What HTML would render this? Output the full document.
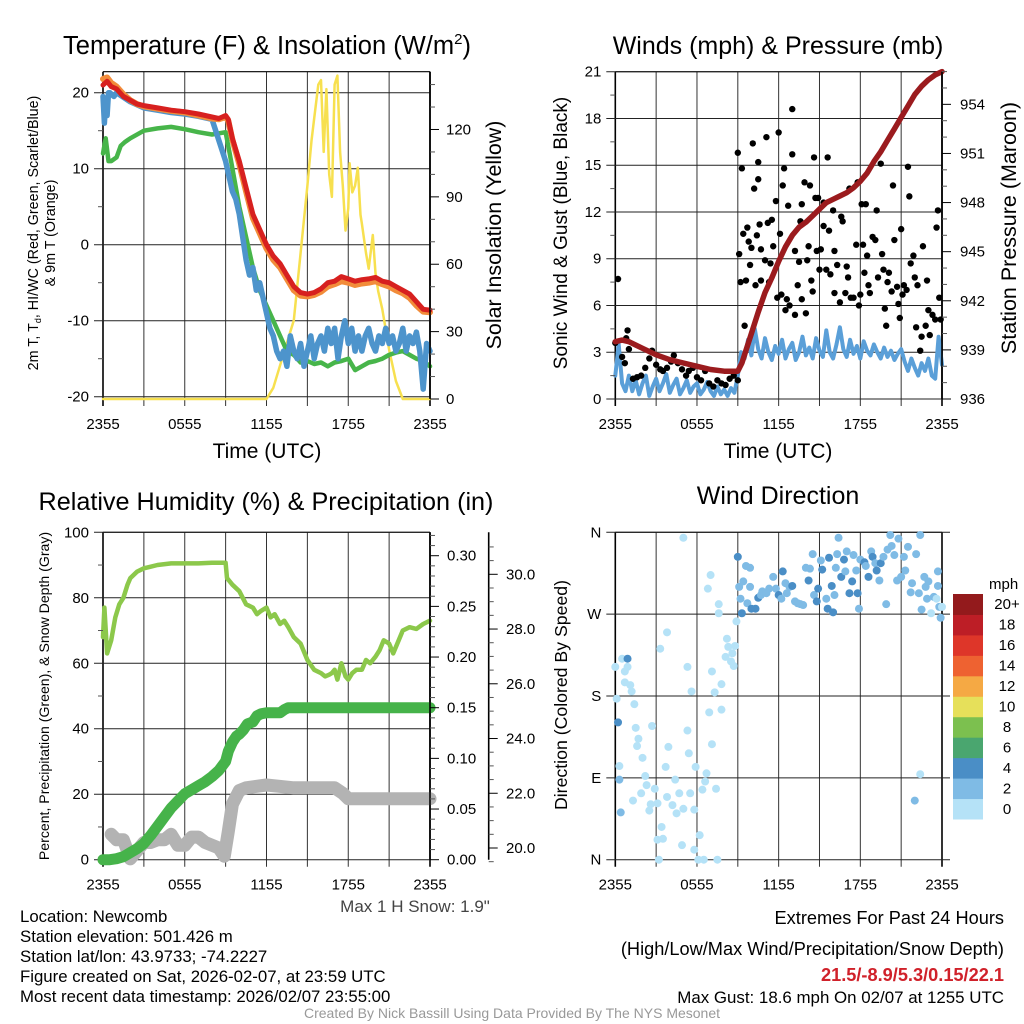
<!DOCTYPE html>
<html><head><meta charset="utf-8">
<style>
html,body{margin:0;padding:0;background:#fff;}
svg{display:block;font-family:"Liberation Sans",Arial,sans-serif;}
</style></head>
<body>
<svg id="c" width="1024" height="1024" viewBox="0 0 1024 1024" xmlns="http://www.w3.org/2000/svg">
<rect x="0" y="0" width="1024" height="1024" fill="#fff"/>
<g id="grids"></g>
<g id="marks"></g>
<g id="axes"></g>
<!-- titles -->
<text x="267" y="54" font-size="25.5" text-anchor="middle">Temperature (F) &amp; Insolation (W/m<tspan dy="-10" font-size="15">2</tspan><tspan dy="10">)</tspan></text>
<text x="778" y="54" font-size="25" text-anchor="middle">Winds (mph) &amp; Pressure (mb)</text>
<text x="266" y="510" font-size="25.2" text-anchor="middle">Relative Humidity (%) &amp; Precipitation (in)</text>
<text x="778" y="504" font-size="25" text-anchor="middle">Wind Direction</text>
<!-- x titles -->
<text x="267" y="458" font-size="21" text-anchor="middle">Time (UTC)</text>
<text x="778" y="458" font-size="21" text-anchor="middle">Time (UTC)</text>
<!-- y titles -->
<text transform="translate(38,233) rotate(-90)" font-size="14.3" text-anchor="middle">2m T, T<tspan font-size="9" dy="3">d</tspan><tspan dy="-3">, HI/WC (Red, Green, Scarlet/Blue)</tspan></text>
<text transform="translate(55,233) rotate(-90)" font-size="14.3" text-anchor="middle">&amp; 9m T (Orange)</text>
<text transform="translate(501,235) rotate(-90)" font-size="21.4" text-anchor="middle">Solar Insolation (Yellow)</text>
<text transform="translate(567,233) rotate(-90)" font-size="19" text-anchor="middle">Sonic Wind &amp; Gust (Blue, Black)</text>
<text transform="translate(1016,228) rotate(-90)" font-size="21.5" text-anchor="middle">Station Pressure (Maroon)</text>
<text transform="translate(49,696) rotate(-90)" font-size="14.1" text-anchor="middle">Percent, Precipitation (Green), &amp; Snow Depth (Gray)</text>
<text transform="translate(567,695) rotate(-90)" font-size="17.7" text-anchor="middle">Direction (Colored By Speed)</text>
<!-- footer -->
<text x="415" y="912" font-size="17" fill="#444" text-anchor="middle">Max 1 H Snow: 1.9"</text>
<g font-size="16.8">
<text x="20" y="922">Location: Newcomb</text>
<text x="20" y="942">Station elevation: 501.426 m</text>
<text x="20" y="962">Station lat/lon: 43.9733; -74.2227</text>
<text x="20" y="982">Figure created on Sat, 2026-02-07, at 23:59 UTC</text>
<text x="20" y="1002">Most recent data timestamp: 2026/02/07 23:55:00</text>
</g>
<g text-anchor="end">
<text x="1004" y="924" font-size="18.2">Extremes For Past 24 Hours</text>
<text x="1004" y="955" font-size="18.2">(High/Low/Max Wind/Precipitation/Snow Depth)</text>
<text x="1004" y="981" font-size="18.2" fill="#d0212a" font-weight="bold">21.5/-8.9/5.3/0.15/22.1</text>
<text x="1004" y="1003" font-size="16.9">Max Gust: 18.6 mph On 02/07 at 1255 UTC</text>
</g>
<text x="512" y="1018" font-size="14" fill="#999" text-anchor="middle">Created By Nick Bassill Using Data Provided By The NYS Mesonet</text>
</svg>
<script>
// ---------- DATA ----------
const timeTickLabels = ["2355","0555","1155","1755","2355"];
const tempTicks = [-20,-10,0,10,20];
const solarTicks = [0,30,60,90,120];
const windTicks = [0,3,6,9,12,15,18,21];
const presTicks = [936,939,942,945,948,951,954];
const rhTicks = [0,20,40,60,80,100];
const precipTicks = [0,0.05,0.10,0.15,0.20,0.25,0.30];
const precipTickLabels = ["0.00","0.05","0.10","0.15","0.20","0.25","0.30"];
const snowTicks = [20,22,24,26,28,30];
const dirTicks = [0,90,180,270,360];
const dirTickLabels = ["N","E","S","W","N"];

const tempTimes = [0,0.3,0.6,1,1.5,2,2.5,3,4,5,6,7,8,8.5,9,9.2,9.5,10,10.5,11,11.5,12,12.5,13,13.5,14,14.5,15,15.5,16,16.5,17,17.5,18,18.5,19,19.5,20,20.5,21,21.5,22,22.5,23,23.5,24];
const tempRed = [21,21.5,20.8,20.5,19.5,19,18.5,18.3,18,17.7,17.5,17.2,16.8,16.6,17,16.5,14,11,7.5,4,2,0,-1.5,-2.5,-4,-5.5,-6.3,-6.5,-6.3,-5.8,-5,-4.8,-4.2,-4.5,-4.8,-4.6,-4.5,-4.3,-4.8,-5,-5.5,-6,-6.5,-7.5,-8.5,-8.6];
const tempOrange = [21.8,22,21.3,20.8,19.8,19,18.5,18.2,17.9,17.6,17.4,17,16.6,16.5,16.8,16.3,13.8,10.6,7,3.5,1.5,-0.5,-2,-3,-4.5,-6,-6.7,-6.8,-6.6,-6.2,-5.5,-5.2,-4.8,-5,-5.3,-5.1,-5,-4.8,-5.2,-5.5,-6,-6.4,-7,-8,-8.8,-8.9];
const dewTimes = [0,0.2,0.4,0.6,1,1.3,1.6,2,3,4,5,6,7,8,9,9.3,9.6,10,10.5,11,11.5,12,12.5,13,13.5,14,14.5,15,15.5,16,16.5,17,17.5,18,18.5,19,19.5,20,20.5,21,21.5,22,22.5,23,23.5,24];
const dewVals = [12,14,11,11,11.5,13,13.5,14,15,15.3,15.5,15.2,14.8,14.5,14.8,12,9,5,1,-3,-6,-8,-10,-12,-14,-14.5,-15.5,-15.3,-15.7,-15.5,-16,-15.5,-15.3,-15,-16.5,-16,-15.5,-15.3,-15,-14.5,-14.2,-14,-14.5,-15,-15.3,-16];
const chillTimes = [0,0.1,0.2,0.3,0.4,0.5,0.8,1,2,3,4,5,6,7,8,9,9.25,9.5,9.75,10,10.25,10.5,10.75,11,11.25,11.5,11.75,12,12.25,12.5,12.75,13,13.25,13.5,13.75,14,14.25,14.5,14.75,15,15.25,15.5,15.75,16,16.25,16.5,16.75,17,17.25,17.5,17.75,18,18.25,18.5,18.75,19,19.25,19.5,19.75,20,20.25,20.5,20.75,21,21.25,21.5,21.75,22,22.25,22.5,22.75,23,23.25,23.5,23.75,24];
const chillVals = [19.5,16,19,17,20,20,19.5,20,18.8,18,17.7,17.4,17.2,16.9,16.5,11,9,7,6,4,1,-2,-4,-3,-6,-5,-7,-9,-11,-12,-14,-15,-14,-16,-12,-14,-15,-13,-16,-14,-12,-15,-13,-12,-14,-11,-13,-11,-15,-12,-10,-13,-11,-14,-12,-14,-12,-11,-13,-14,-12,-13,-11,-13,-12,-14,-13,-11,-14,-12,-13,-11.5,-14,-19,-13,-14];
const solarTimes = [0,12,12.5,13,13.5,14,14.5,15,15.3,15.5,15.8,16,16.2,16.4,16.6,16.8,17,17.2,17.4,17.6,17.8,18,18.1,18.3,18.5,18.7,18.9,19,19.3,19.5,19.8,20,20.2,20.5,21,21.5,22,24];
const solarVals = [0,0,5,15,25,35,65,95,115,125,140,142,110,138,100,90,140,144,110,95,75,85,105,92,95,103,82,78,65,58,73,56,48,40,22,8,0,0];

const windTimes = [0,0.25,0.5,0.75,1,1.25,1.5,1.75,2,2.25,2.5,2.75,3,3.25,3.5,3.75,4,4.25,4.5,4.75,5,5.25,5.5,5.75,6,6.25,6.5,6.75,7,7.25,7.5,7.75,8,8.25,8.5,8.75,9,9.25,9.5,9.75,10,10.25,10.5,10.75,11,11.25,11.5,11.75,12,12.25,12.5,12.75,13,13.25,13.5,13.75,14,14.25,14.5,14.75,15,15.25,15.5,15.75,16,16.25,16.5,16.75,17,17.25,17.5,17.75,18,18.25,18.5,18.75,19,19.25,19.5,19.75,20,20.25,20.5,20.75,21,21.25,21.5,21.75,22,22.25,22.5,22.75,23,23.25,23.5,23.75,24];
const windVals = [1.5,3.5,1.0,0.5,1.5,0.5,1.2,0.3,1.0,1.5,0.2,0.8,1.3,0.5,1.0,1.6,0.4,0.9,1.3,0.3,0.7,1.2,0.4,0.8,1.0,0.3,0.6,1.1,0.5,0.2,0.8,0.3,0.6,0.2,0.7,0.4,1.5,3.0,2.6,3.8,2.8,4.5,3.2,2.6,3.9,3.0,2.5,3.4,2.9,3.8,2.6,3.2,3.6,2.5,3.0,4.0,2.8,3.3,2.6,3.9,3.1,2.7,4.4,3.0,2.6,3.5,4.6,3.2,2.7,3.8,2.9,3.4,2.6,3.7,3.1,2.8,3.5,3.0,2.6,3.3,2.7,3.1,2.5,2.9,3.2,2.4,1.8,2.6,2.0,1.5,2.3,1.8,2.6,1.5,1.3,4.0,2.2];
const presTimes = [0,0.5,1,2,3,4,5,6,7,8,9,9.3,10,10.5,11,11.5,12,12.5,13,13.5,14,14.5,15,15.5,16,16.5,17,17.5,18,18.5,19,19.5,20,20.5,21,21.5,22,22.5,23,23.5,24];
const presVals = [939.5,939.6,939.5,939.1,938.7,938.4,938.2,938.0,937.8,937.7,937.7,938.2,940,941.3,942.5,943.4,944.4,945.3,946,946.5,946.8,947.2,947.6,948,948.2,948.4,948.6,948.9,949.3,949.8,950.5,951.1,951.8,952.5,953.2,953.9,954.6,955.1,955.5,955.8,956.0];
const gustTimes = [0.2,0,0.9,0.8,0.5,0.7,1.0,1.3,1.6,1.9,2.2,2.5,2.7,3.0,3.3,3.5,3.8,4.1,4.3,4.6,4.9,5.2,5.4,5.7,6.0,6.3,6.6,6.9,7.2,7.5,7.8,8.1,8.4,8.7,9.0,
9.0,9.3,9.1,9.2,9.4,9.5,9.6,9.7,9.8,9.9,10.0,10.1,10.2,10.3,10.4,10.5,10.5,10.6,10.7,10.7,11.0,11.1,11.2,11.3,11.4,11.5,11.6,11.8,11.9,12.0,12.1,12.2,12.3,12.4,12.5,12.6,12.7,12.8,13.0,13.0,13.2,13.2,13.4,13.5,13.6,13.7,13.7,13.9,14.0,14.1,14.2,14.3,14.4,14.5,14.6,14.7,14.8,14.9,15.0,15.1,15.3,15.3,15.5,15.6,15.7,15.8,16.0,16.1,16.1,16.3,16.5,16.6,16.7,16.9,17.0,17.1,17.2,17.3,17.5,17.7,17.8,17.9,18.0,18.1,18.2,18.3,18.4,18.5,18.6,18.7,18.9,19.1,19.2,19.3,19.5,19.6,19.7,19.8,19.9,20.0,20.1,20.3,20.4,20.5,20.7,20.8,20.9,21.0,21.1,21.2,21.4,21.5,21.6,21.7,21.9,22.0,22.1,22.2,22.4,22.5,22.6,22.8,22.9,23.0,23.1,23.3,23.5,23.6,23.7,23.8,23.9];
const gustVals = [7.7,3.6,4.4,3.9,2.7,2.3,3.2,1.3,1.4,1.5,2.0,2.6,3.1,2.2,1.9,1.8,2.0,2.4,2.8,2.3,1.9,1.5,1.8,2.0,1.4,1.2,1.8,1.0,0.8,1.2,1.0,0.9,1.3,1.5,1.2,
15.8,14.8,9.3,7.5,10.6,4.7,7.6,11.0,10.1,8.6,9.7,16.4,13.5,7.3,10.5,14.1,15.2,11.2,9.6,7.6,8.9,16.8,11.3,7.5,8.7,11.5,9.8,12.7,6.5,17.1,10.6,6.7,13.7,14.8,5.7,6.4,12.4,6.0,18.6,15.7,9.5,5.4,7.3,8.8,11.4,12.5,6.4,13.9,5.5,8.9,9.8,13.7,7.6,6.9,15.5,12.9,9.5,12.9,8.3,9.6,11.1,12.6,8.3,15.5,10.8,8.0,12.1,9.5,6.8,8.6,6.2,11.7,11.4,6.8,8.5,7.8,13.5,6.5,6.5,9.9,13.9,6.0,6.7,12.5,9.9,8.1,12.5,9.2,7.3,6.8,10.4,10.2,12.1,7.8,15.1,9.3,8.3,5.8,4.7,7.5,8.1,6.9,13.7,10.2,7.2,6.1,5.2,10.9,6.7,7.3,7.0,14.9,13.0,8.7,9.2,7.8,4.6,7.3,3.1,4.0,9.8,4.7,7.6,5.7,4.1,5.4,5.1,11.0,12.1,6.5,5.1];

const rhTimes = [0,0.1,0.3,0.6,0.9,1.2,1.5,1.8,2,2.5,3,3.5,4,5,6,7,8,9,9.1,9.5,10,10.5,11,11.3,11.6,12,12.3,12.6,13,13.3,13.6,14,14.5,15,15.5,16,16.3,16.6,16.8,17,17.2,17.5,17.8,18,18.3,18.6,19,19.3,19.6,20,20.3,20.6,21,21.3,21.6,22,22.5,23,23.5,24];
const rhVals = [68,77,63,67,74,78,80,84,86,88,89,89.5,90,90.5,90.5,90.5,90.7,90.7,86,84,82,78,77,75,76,77,74,75,72,73,71,68,66,61,58,57,56,56.5,57,58,55,60,56,55,57,58,58,61,60,62,64,67,66,63,66,70,71,70.5,72,73];
const precipTimes = [0,0.5,1,1.5,2,2.5,3,3.5,4,4.5,5,5.5,6,6.5,7,7.5,8,8.5,9,9.2,9.5,9.8,10,10.3,10.6,11,11.3,11.6,12,13,13.3,13.6,24];
const precipVals = [0,0,0.001,0.003,0.007,0.011,0.016,0.024,0.033,0.042,0.051,0.058,0.065,0.069,0.073,0.077,0.082,0.088,0.097,0.107,0.116,0.122,0.124,0.128,0.134,0.136,0.142,0.144,0.145,0.145,0.148,0.150,0.150];
const snowTimes = [0.6,1,1.5,2,2.5,3,3.5,4,4.5,5,5.5,6,6.5,7,7.5,8,8.5,8.9,9.2,9.5,10,10.5,12,14,16,17,17.6,18,20,22,24];
const snowVals = [20.5,20.3,20.3,19.6,19.9,20.2,20.2,20.3,20.3,20.5,20.1,20.1,20.4,20.4,20.2,20.1,20.0,19.7,20.6,21.6,22.1,22.2,22.3,22.2,22.2,22.2,22.0,21.8,21.8,21.8,21.8];

const dirTimes = [0,0.1,0.2,0.3,0.3,0.4,0.5,0.7,0.9,0.9,0.7,1.1,1.2,1.4,1.5,1.7,1.6,2.0,2.2,2.3,1.9,1.3,2.5,2.6,2.7,2.9,3.1,3.3,3.4,3.5,3.1,3.2,3.7,3.8,3.9,3.8,4.2,4.4,4.5,4.7,4.9,5.0,5.0,5.3,5.3,5.4,5.5,5.6,5.8,5.8,5.9,6.1,6.2,6.4,6.5,6.6,6.7,6.9,7.0,6.8,7.1,7.1,7.3,7.4,7.5,7.6,7.6,7.8,7.8,8.1,8.2,8.3,8.5,8.6,8.7,8.8,8.9,
9.0,9.1,9.2,9.3,9.4,9.6,9.7,9.9,9.9,10.0,10.3,10.5,10.7,10.8,11.1,11.3,11.6,11.8,12.0,12.2,12.3,12.5,12.6,12.8,13.0,13.2,13.4,13.6,13.8,14.0,14.2,14.3,14.5,14.6,14.8,14.9,15.1,15.2,15.5,15.6,15.7,15.9,16.0,16.1,16.2,16.4,16.3,16.6,16.8,16.9,17.0,17.2,17.4,17.5,17.7,17.8,17.9,18.0,18.3,18.4,18.6,18.8,18.9,19.1,19.2,19.4,19.5,19.7,19.9,20.0,20.2,20.3,20.5,20.7,20.8,21.0,21.2,21.3,21.5,21.7,21.8,22.0,22.1,22.3,22.4,22.4,22.5,22.7,22.8,22.9,23.0,23.2,23.4,23.6,23.7,23.7,23.8,23.9,24.0];
const dirVals = [212,177,151,103,88,52,221,207,221,212,195,192,185,171,145,133,125,112,92,82,73,65,54,61,147,78,62,232,36,23,22,0,102,250,124,69,60,88,51,73,16,56,354,212,142,117,73,185,11,55,102,0,27,77,0,86,95,162,313,298,127,207,184,78,0,281,271,193,165,223,243,234,218,227,213,235,262,
333,300,287,271,306,323,282,321,300,276,276,288,291,295,293,298,311,298,291,287,317,304,293,300,301,284,282,281,280,321,307,320,336,291,284,298,329,319,287,276,332,301,272,291,321,354,336,311,330,317,339,293,306,335,318,293,276,330,327,323,311,339,333,326,318,307,326,333,281,341,357,345,335,307,353,311,333,318,344,294,304,65,336,293,94,357,275,311,300,287,306,271,289,287,301,317,278,266,278];
const dirSpeeds = [1,1,4.5,1,3,3,1,1,4.5,1,1,1,1,1,1,1,1,1,1,1,1,1,1,1,1,1,1,1,1,1,1,1,1,1,1,1,1,1,1,1,1,1,1,1,1,1,1,1,1,1,1,1,1,1,1,1,1,1,1,1,1,1,1,1,1,1,1,1,1,1,1,1,1,1,1,1,1,
4.5,3,3,4.5,3,3,3,3,3,4.5,4.5,4.5,3,3,3,3,3,3,4.5,3,4.5,3,3,3,4.5,3,3,3,3,3,4.5,3,3,3,4.5,4.5,3,4.5,3,4.5,4.5,4.5,4.5,3,3,3,3,4.5,4.5,3,3,4.5,4.5,3,3,4.5,3,3,4.5,3,4.5,3,4.5,3,4.5,3,4.5,3,3,3,3,3,3,3,3,3,3,3,3,3,3,3,3,3,1,3,3,3,3,3,3,1,3,1,3,3,3,3,1,3,4.5,3,3,3,4.5,3];
const speedBins = ["0","2","4","6","8","10","12","14","16","18","20+"];
const speedColors = ["#b5e2f7","#7fbbe5","#4a8ec6","#4aa66f","#7cc04f","#e6e05a","#f5a944","#ee6231","#de3629","#bd1e26","#931a1c"];

// ---------- SCALES ----------
const P1 = {x0:103, x1:430, y0:71.7, y1:399};
const P2 = {x0:615.3, x1:942, y0:71.7, y1:399};
const P3 = {x0:103, x1:430, y0:532.3, y1:859.7};
const P4 = {x0:615.3, x1:942, y0:532.3, y1:859.7};
function tx(P,t){ return P.x0 + t*(P.x1-P.x0)/24; }
function yTemp(v){ return 244.7 - v*7.6; }
function ySolar(v){ return 399 - v*2.246; }
function yWind(v){ return 399 - v*(399-71.7)/21; }
function yPres(v){ return 399 - (v-936)*16.37; }
function yRH(v){ return 859.7 - v*3.274; }
function yPrecip(v){ return 859.7 - v*1013.3; }
function ySnow(v){ return 848 - (v-20)*27.37; }
function yDir(v){ return 859.7 - v*(859.7-532.3)/360; }

const NS="http://www.w3.org/2000/svg";
const grids=document.getElementById('grids'), marks=document.getElementById('marks'), axes=document.getElementById('axes');
function mk(tag, attrs, parent){ const e=document.createElementNS(NS,tag); for(const k in attrs) e.setAttribute(k,attrs[k]); parent.appendChild(e); return e; }
function pathD(xs, ys){ let d=''; for(let i=0;i<xs.length;i++){ d += (i?'L':'M')+xs[i].toFixed(1)+' '+ys[i].toFixed(1); } return d; }

// ---------- FRAMES ----------
function frame(P, prefix, leftVals, yf, leftLabels, hExt){
  for(let k=0;k<=8;k++){
    const x=tx(P,k*3);
    const l=mk('line',{x1:x,y1:P.y0,x2:x,y2:P.y1+7,stroke:(k==0||k==8)?'#000':'#333','stroke-width':(k==0||k==8)?1.6:1},grids);
    
    
  }
  const top=mk('line',{x1:P.x0,y1:P.y0,x2:P.x1,y2:P.y0,stroke:'#000','stroke-width':1.2},grids);
  
  
  for(let i=0;i<leftVals.length;i++){
    const y=yf(leftVals[i]);
    const l=mk('line',{x1:P.x0-9,y1:y,x2:P.x1+(hExt||0),y2:y,stroke:'#222','stroke-width':1},grids);
    
    
    const t=mk('text',{x:P.x0-14,y:y+5,'font-size':15,'text-anchor':'end'},axes);
    t.textContent=leftLabels[i];
    
    
  }
  for(let k=0;k<timeTickLabels.length;k++){
    const t=mk('text',{x:tx(P,k*6),y:P.y1+30,'font-size':15,'text-anchor':'middle'},axes);
    t.textContent=timeTickLabels[k];
    
    
  }
}
function rightAxis(x, y0, y1, vals, yf, labels, minorVals, prefix, labX){
  const ax=mk('line',{x1:x,y1:y0,x2:x,y2:y1,stroke:'#000','stroke-width':1.6},axes);
  
  
  for(let i=0;i<vals.length;i++){
    const y=yf(vals[i]);
    const l=mk('line',{x1:x,y1:y,x2:x+9,y2:y,stroke:'#000','stroke-width':1},axes);
    
    
    const t=mk('text',{x:labX,y:y+5,'font-size':15},axes);
    t.textContent=labels[i];
    
    
  }
  for(let i=0;i<minorVals.length;i++){
    const y=yf(minorVals[i]);
    const l=mk('line',{x1:x,y1:y,x2:x+5,y2:y,stroke:'#555','stroke-width':1},axes);
    
    
  }
}
function leftMinor(P, vals, yf, prefix){
  for(let i=0;i<vals.length;i++){
    const y=yf(vals[i]);
    const l=mk('line',{x1:P.x0-5,y1:y,x2:P.x0,y2:y,stroke:'#555','stroke-width':1},axes);
    
    
  }
}

frame(P1,'temperature',tempTicks,yTemp,tempTicks.map(String),0);
leftMinor(P1,[-15,-5,5,15],yTemp,'temperature');
rightAxis(P1.x1,P1.y0,P1.y1,solarTicks,ySolar,solarTicks.map(String),[10,20,40,50,70,80,100,110,130,140],'insolation',446);
frame(P2,'winds',windTicks,yWind,windTicks.map(String),0);
leftMinor(P2,[1.5,4.5,7.5,10.5,13.5,16.5,19.5],yWind,'winds');
rightAxis(P2.x1,P2.y0,P2.y1,presTicks,yPres,presTicks.map(String),[937,938,940,941,943,944,946,947,949,950,952,953,955,956],'pressure',960);
frame(P3,'humidity',rhTicks,yRH,rhTicks.map(String),0);
leftMinor(P3,[10,30,50,70,90],yRH,'humidity');
rightAxis(P3.x1,P3.y0,P3.y1,precipTicks,yPrecip,precipTickLabels,[0.01,0.02,0.03,0.04,0.06,0.07,0.08,0.09,0.11,0.12,0.13,0.14,0.16,0.17,0.18,0.19,0.21,0.22,0.23,0.24,0.26,0.27,0.28,0.29,0.31,0.32],'precipitation',447);
rightAxis(488.7,P3.y0,P3.y1,snowTicks,ySnow,snowTicks.map(v=>v.toFixed(1)),[19.5,20.5,21,21.5,22.5,23,23.5,24.5,25,25.5,26.5,27,27.5,28.5,29,29.5,30.5,31],'snow-depth',506);
frame(P4,'direction',dirTicks,yDir,dirTickLabels,8);

// ---------- SERIES ----------
function series(P, times, vals, yf, color, w, name){
  const xs=times.map(t=>tx(P,t)), ys=vals.map(yf);
  const p=mk('path',{d:pathD(xs,ys),fill:'none',stroke:color,'stroke-width':w,'stroke-linejoin':'round','stroke-linecap':'round'},marks);
  
  
}
series(P1,solarTimes,solarVals,ySolar,'#f7e04f',2.5,'solar-insolation-line');
series(P1,dewTimes,dewVals,yTemp,'#47b54a',4.5,'dewpoint-line');
series(P1,chillTimes,chillVals,yTemp,'#4d94cc',5.5,'wind-chill-line');
series(P1,tempTimes,tempOrange,yTemp,'#f28c3a',6,'temperature-9m-line');
series(P1,tempTimes,tempRed,yTemp,'#d7201f',5,'temperature-2m-line');

series(P2,windTimes,windVals,yWind,'#5a9fd8',4,'sonic-wind-line');
for(let i=0;i<gustTimes.length;i++){
  const c=mk('circle',{cx:tx(P2,gustTimes[i]),cy:yWind(gustVals[i]),r:3.2,fill:'#000'},marks);
  
  
}
series(P2,presTimes,presVals,yPres,'#9b1b1e',5.5,'station-pressure-line');

series(P3,rhTimes,rhVals,yRH,'#8cc84b',4.5,'relative-humidity-line');
series(P3,snowTimes,snowVals,ySnow,'#b3b3b3',13,'snow-depth-line');
series(P3,precipTimes,precipVals,yPrecip,'#46b34a',11,'precipitation-line');

function speedColor(s){ const i=Math.min(10,Math.floor(s/2)); return speedColors[i]; }
for(let i=0;i<dirTimes.length;i++){
  const c=mk('circle',{cx:tx(P4,dirTimes[i]),cy:yDir(dirVals[i]),r:4,fill:speedColor(dirSpeeds[i])},marks);
  
  
}

// ---------- COLORBAR ----------
const cbX=953, cbW=30, cbTop=594, cbBot=819;
const cbH=(cbBot-cbTop)/speedBins.length;
const mph=mk('text',{x:989,y:589,'font-size':15},axes);
mph.textContent='mph';


for(let i=0;i<speedBins.length;i++){
  const y=cbBot-(i+1)*cbH;
  const r=mk('rect',{x:cbX,y:y,width:cbW,height:cbH+0.5,fill:speedColors[i]},axes);
  
  
  const t=mk('text',{x:1007,y:y+cbH/2+5,'font-size':15,'text-anchor':'middle'},axes);
  t.textContent=speedBins[i];
  
  
}
</script>
</body></html>
